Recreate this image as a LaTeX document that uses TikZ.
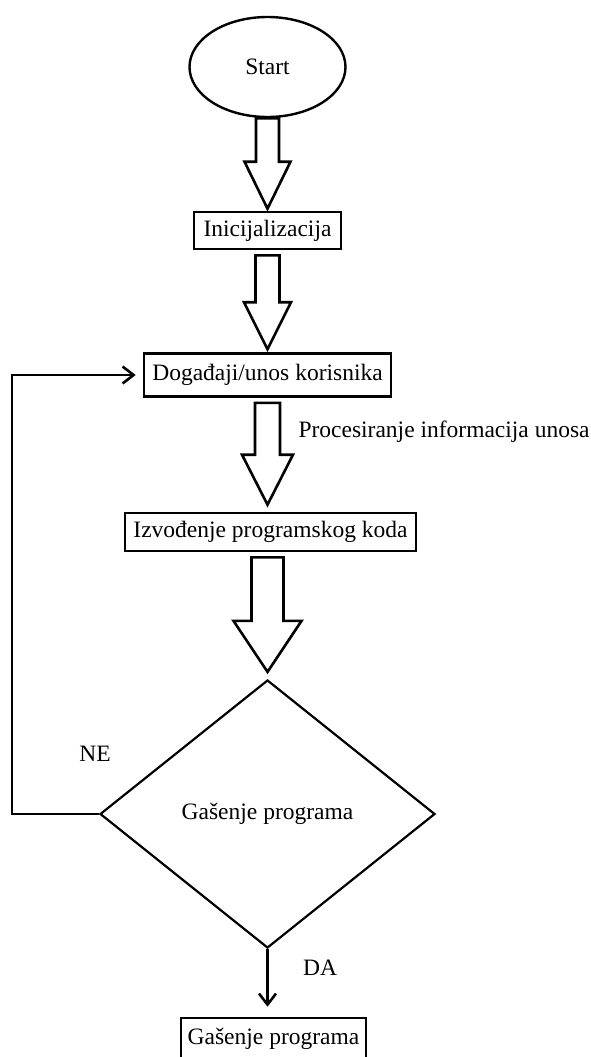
\documentclass[tikz,border=0pt]{standalone}
\usepackage{fontspec}
\setmainfont{Liberation Serif}
\usetikzlibrary{shapes.geometric,arrows.meta,calc}

\tikzset{
  every node/.style={font=\fontsize{23.5pt}{28pt}\selectfont},
  box/.style={draw, rectangle, line width=2.6pt, inner sep=0pt},
  blockarrow/.style={draw, line width=2.6pt, line join=miter},
  flow/.style={draw, line width=2.6pt, -{Straight Barb[length=11pt,width=17pt]}}
}

\begin{document}
\begin{tikzpicture}[x=1pt,y=-1pt]
  \clip (0,0) rectangle (591,1057);
  \node[draw, ellipse, line width=2.4pt, minimum width=156pt, minimum height=100pt] (start) at (267.5,67) {Start};
  \node[box, minimum width=147pt, minimum height=37pt] (init) at (267.5,230.5) {Inicijalizacija};
  \node[box, minimum width=247pt, minimum height=43pt] (events) at (267.5,375) {Događaji/unos korisnika};
  \node[box, minimum width=291pt, minimum height=38pt] (code) at (270.5,532) {Izvođenje programskog koda};
  \node[draw, diamond, line width=2.2pt, inner sep=0pt, minimum width=335pt, minimum height=268pt] (quit) at (267.5,814) {Gašenje programa};
  \node[box, minimum width=185pt, minimum height=42pt] (stop) at (273.5,1039) {Gašenje programa};

  % block arrows
  \draw[blockarrow] ($(start.south)+(-11.5,0)$) -- ($(init.north)+(-11.5,-49)$) -- ($(init.north)+(-23,-49)$) -- ($(init.north)+(0,-2)$)
    -- ($(init.north)+(23,-49)$) -- ($(init.north)+(11.5,-49)$) -- ($(start.south)+(11.5,0)$) -- cycle;
  \draw[blockarrow] ($(init.south)+(-12,5)$) -- ($(events.north)+(-12,-50)$) -- ($(events.north)+(-23.5,-50)$) -- ($(events.north)+(0,-3)$)
    -- ($(events.north)+(23.5,-50)$) -- ($(events.north)+(12,-50)$) -- ($(init.south)+(12,5)$) -- cycle;
  \draw[blockarrow] ($(events.south)+(-12.5,5)$) -- ($(code.north -| events.south)+(-12.5,-57)$) -- ($(code.north -| events.south)+(-25.5,-57)$) -- ($(code.north -| events.south)+(0,-7)$)
    -- ($(code.north -| events.south)+(25.5,-57)$) -- ($(code.north -| events.south)+(12.5,-57)$) -- ($(events.south)+(12.5,5)$) -- cycle;
  \draw[blockarrow] ($(code.south -| quit.north)+(-16,5)$) -- ($(quit.north)+(-16,-58)$) -- ($(quit.north)+(-34,-58)$) -- ($(quit.north)+(0,-7)$)
    -- ($(quit.north)+(34,-58)$) -- ($(quit.north)+(16,-58)$) -- ($(code.south -| quit.north)+(16,5)$) -- cycle;

  % loop back and exit
  \draw[flow, shorten >=7pt] (quit.west) -- ++(-87,0) |- (events.west);
  \draw[flow, shorten >=10pt] (quit.south) -- (quit.south |- stop.north);

  \node[anchor=base west] (proc) at (295,437) {Procesiranje informacija unosa};
  \node (ne) at (95,754) {NE};
  \node (da) at (320,968) {DA};
\end{tikzpicture}
\end{document}
